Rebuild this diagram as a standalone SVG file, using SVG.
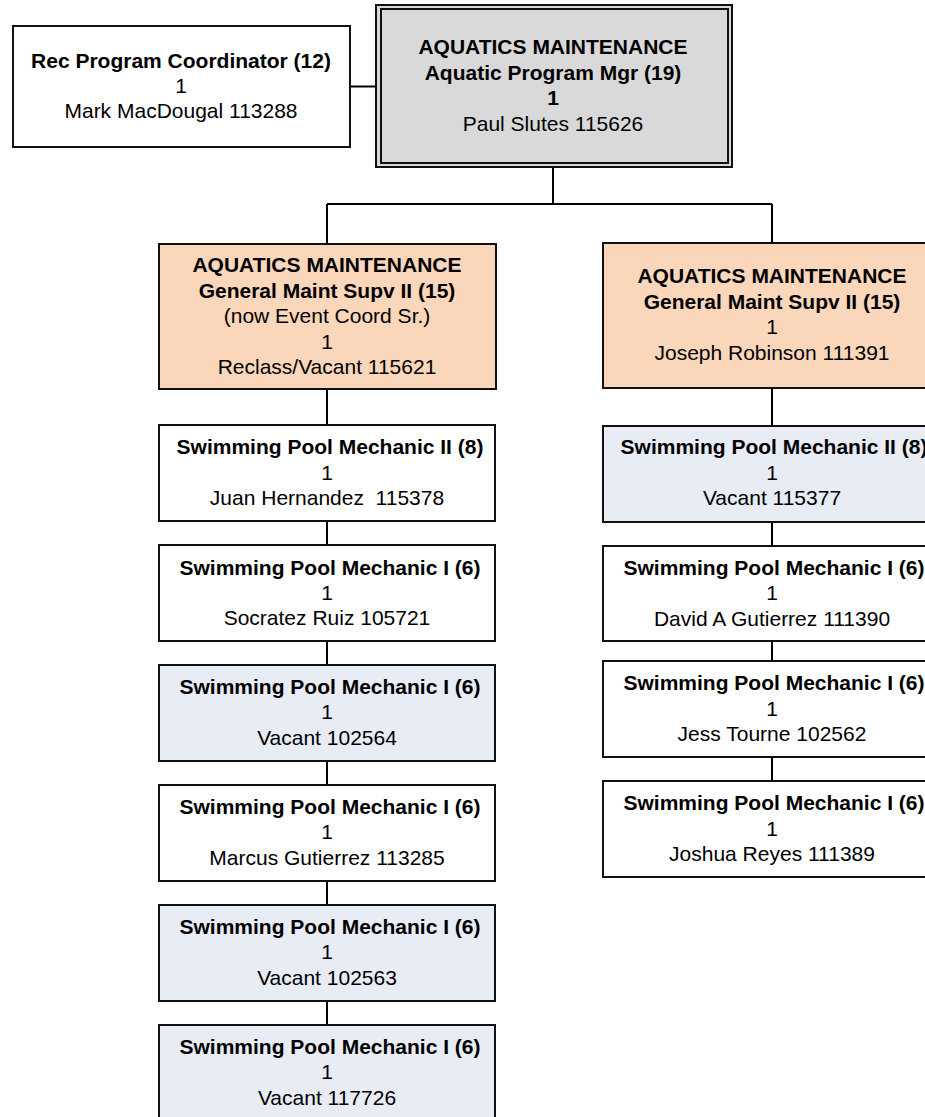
<svg xmlns="http://www.w3.org/2000/svg" width="925" height="1117" viewBox="0 0 925 1117">
<style>
text{font-family:"Liberation Sans",Arial,sans-serif;font-size:21px;fill:#000;text-anchor:middle}
.b{font-weight:bold}
.box{stroke:#111;stroke-width:2}
.w{fill:#fff}
.v{fill:#E7ECF5}
.o{fill:#FAD6BA}
.g{fill:#D9D9D9}
.c{stroke:#000;stroke-width:2;fill:none}
</style>
<rect width="925" height="1117" fill="#fff"/>
<g id="connectors">
<path class="c" d="M350 86.5H376"/>
<path class="c" d="M553 167V204M327 204H772M327 204V244M772 204V243"/>
<path class="c" d="M327 389V425M327 521V545M327 641V665M327 761V785M327 881V905M327 1001V1025"/>
<path class="c" d="M772 388V426M772 522V546M772 641V661M772 757V781"/>
</g>
<g id="n-rec">
<rect class="box w" x="13" y="26" width="337" height="121"/>
<text class="b" x="181" y="68">Rec Program Coordinator (12)</text>
<text x="181" y="93">1</text>
<text x="181" y="118">Mark MacDougal 113288</text>
</g>
<g id="n-main">
<rect class="box g" x="376" y="5" width="356" height="162"/>
<rect class="box g" x="381" y="9" width="347" height="154"/>
<text class="b" x="553" y="54">AQUATICS MAINTENANCE</text>
<text class="b" x="553" y="79.5">Aquatic Program Mgr (19)</text>
<text class="b" x="553" y="105">1</text>
<text x="553" y="130.5">Paul Slutes 115626</text>
</g>
<g id="n-supv-left">
<rect class="box o" x="159" y="244" width="337" height="145"/>
<text class="b" x="327" y="272">AQUATICS MAINTENANCE</text>
<text class="b" x="327" y="297.5">General Maint Supv II (15)</text>
<text x="327" y="323">(now Event Coord Sr.)</text>
<text x="327" y="348.5">1</text>
<text x="327" y="374">Reclass/Vacant 115621</text>
</g>
<g id="n-supv-right">
<rect class="box o" x="603" y="243" width="337" height="145"/>
<text class="b" x="772" y="283">AQUATICS MAINTENANCE</text>
<text class="b" x="772" y="308.5">General Maint Supv II (15)</text>
<text x="772" y="334">1</text>
<text x="772" y="359.5">Joseph Robinson 111391</text>
</g>
<g id="n-l1">
<rect class="box w" x="159" y="425" width="336" height="96"/>
<text class="b" x="330" y="454">Swimming Pool Mechanic II (8)</text>
<text x="327" y="479.5">1</text>
<text x="327" y="505" xml:space="preserve">Juan Hernandez  115378</text>
</g>
<g id="n-l2">
<rect class="box w" x="159" y="545" width="336" height="96"/>
<text class="b" x="330" y="574.5">Swimming Pool Mechanic I (6)</text>
<text x="327" y="600">1</text>
<text x="327" y="625">Socratez Ruiz 105721</text>
</g>
<g id="n-l3">
<rect class="box v" x="159" y="665" width="336" height="96"/>
<text class="b" x="330" y="693.5">Swimming Pool Mechanic I (6)</text>
<text x="327" y="719">1</text>
<text x="327" y="745">Vacant 102564</text>
</g>
<g id="n-l4">
<rect class="box w" x="159" y="785" width="336" height="96"/>
<text class="b" x="330" y="813.5">Swimming Pool Mechanic I (6)</text>
<text x="327" y="839">1</text>
<text x="327" y="865">Marcus Gutierrez 113285</text>
</g>
<g id="n-l5">
<rect class="box v" x="159" y="905" width="336" height="96"/>
<text class="b" x="330" y="933.5">Swimming Pool Mechanic I (6)</text>
<text x="327" y="959">1</text>
<text x="327" y="984.5">Vacant 102563</text>
</g>
<g id="n-l6">
<rect class="box v" x="159" y="1025" width="336" height="96"/>
<text class="b" x="330" y="1053.5">Swimming Pool Mechanic I (6)</text>
<text x="327" y="1079">1</text>
<text x="327" y="1104.5">Vacant 117726</text>
</g>
<g id="n-r1">
<rect class="box v" x="603" y="426" width="337" height="96"/>
<text class="b" x="774" y="454">Swimming Pool Mechanic II (8)</text>
<text x="772" y="479.5">1</text>
<text x="772" y="505">Vacant 115377</text>
</g>
<g id="n-r2">
<rect class="box w" x="603" y="546" width="337" height="95"/>
<text class="b" x="774" y="575">Swimming Pool Mechanic I (6)</text>
<text x="772" y="600">1</text>
<text x="772" y="625.5">David A Gutierrez 111390</text>
</g>
<g id="n-r3">
<rect class="box w" x="603" y="661" width="337" height="96"/>
<text class="b" x="774" y="690">Swimming Pool Mechanic I (6)</text>
<text x="772" y="715.5">1</text>
<text x="772" y="741">Jess Tourne 102562</text>
</g>
<g id="n-r4">
<rect class="box w" x="603" y="781" width="337" height="96"/>
<text class="b" x="774" y="810">Swimming Pool Mechanic I (6)</text>
<text x="772" y="835.5">1</text>
<text x="772" y="861">Joshua Reyes 111389</text>
</g>
</svg>
